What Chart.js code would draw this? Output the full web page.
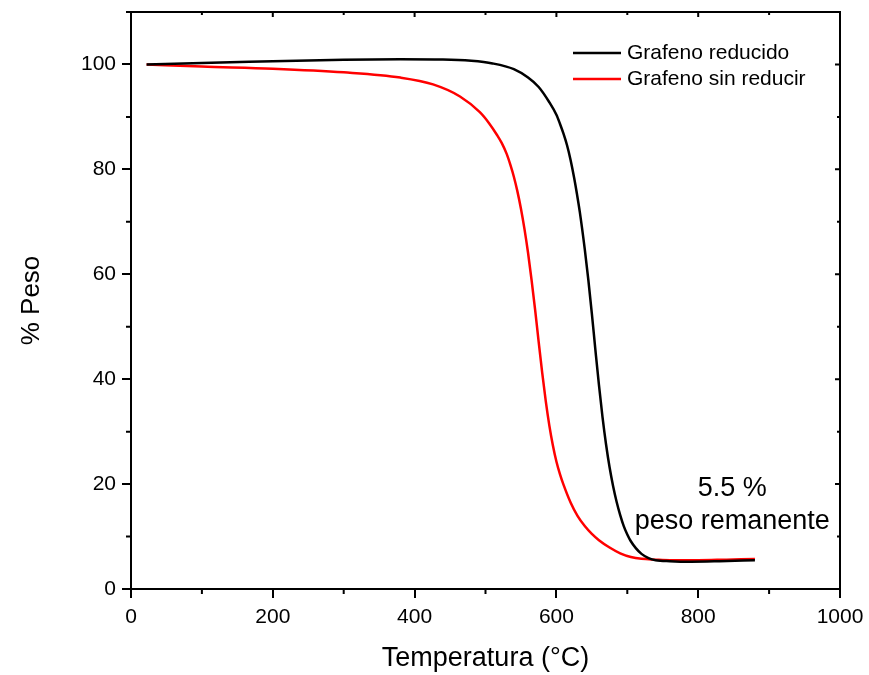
<!DOCTYPE html>
<html>
<head>
<meta charset="utf-8">
<script src="https://cdn.jsdelivr.net/npm/chart.js@4.4.1/dist/chart.umd.min.js"></script>
<style>
  body { margin: 0; background: #fff; }
  #wrap { width: 869px; height: 675px; position: relative; }
</style>
</head>
<body>
<div id="wrap"><canvas id="tga"></canvas></div>
<script>
// TGA curves (temperature in °C, weight in %)
const tempReducido = [22, 100, 200, 300, 380, 440, 480, 510, 540, 560, 575, 590, 600, 605, 610, 615, 620, 625, 629, 633, 640, 645, 650, 655, 660, 665, 670, 675, 680, 685, 690, 695, 700, 705, 712, 720, 730, 740, 760, 790, 830, 880];
const pesoReducido = [100.0, 100.3, 100.6, 100.9, 101.0, 100.95, 100.7, 100.2, 99.1, 97.5, 95.7, 92.8, 90.4, 88.7, 86.8, 84.6, 81.8, 78.4, 75.3, 71.9, 64.8, 59.0, 52.5, 45.6, 38.9, 32.8, 27.6, 23.2, 19.6, 16.6, 14.1, 12.0, 10.4, 9.1, 7.8, 6.7, 5.9, 5.5, 5.3, 5.2, 5.3, 5.5];

const tempSinReducir = [22, 100, 200, 300, 380, 426, 464, 492, 505, 516, 523, 530, 535, 540, 545, 550, 555, 560, 565, 570, 575, 580, 585, 590, 595, 600, 605, 610, 620, 630, 640, 650, 660, 675, 690, 705, 720, 740, 760, 800, 840, 880];
const pesoSinReducir = [100, 99.6, 99.2, 98.5, 97.5, 96.2, 93.9, 90.9, 88.8, 86.6, 85.0, 82.9, 80.9, 78.6, 75.8, 72.5, 68.6, 64.1, 58.9, 53.2, 47.1, 41.2, 35.8, 31.2, 27.4, 24.3, 21.9, 19.9, 16.5, 13.9, 12.0, 10.5, 9.3, 7.9, 6.8, 6.1, 5.75, 5.6, 5.5, 5.5, 5.6, 5.7];

const xTicks = [0, 200, 400, 600, 800, 1000];
const yTicks = [0, 20, 40, 60, 80, 100];
const seriesNames = ['Grafeno reducido', 'Grafeno sin reducir'];
const seriesColors = ['#000000', '#ff0000'];
const noteLines = ['5.5 %', 'peso remanente'];

const FONT = '"Liberation Sans", Arial, sans-serif';
const toPoints = (xs, ys) => xs.map((x, i) => ({ x: x, y: ys[i] }));

// frame, minor ticks, legend and annotation
const decorations = {
  id: 'decorations',
  afterDraw(chart) {
    const { ctx, chartArea: a, scales } = chart;
    const xs = scales.x, ys = scales.y;
    ctx.save();
    ctx.strokeStyle = '#000';
    ctx.lineWidth = 2;
    ctx.strokeRect(a.left, a.top, a.right - a.left, a.bottom - a.top);

    ctx.beginPath();
    // minor ticks outside on bottom/left, small inner ticks on top/right
    for (let v = 0; v <= 1000; v += 100) {
      const px = xs.getPixelForValue(v);
      if (v % 200 !== 0) {
        ctx.moveTo(px, a.bottom); ctx.lineTo(px, a.bottom + 5);
      }
      ctx.moveTo(px, a.top); ctx.lineTo(px, a.top + (v % 200 ? 3 : 5));
    }
    for (let v = 0; v <= 110; v += 10) {
      const py = ys.getPixelForValue(v);
      if (v % 20 !== 0) {
        ctx.moveTo(a.left, py); ctx.lineTo(a.left - 5, py);
      }
      ctx.moveTo(a.right, py); ctx.lineTo(a.right - (v % 20 ? 3 : 5), py);
    }
    ctx.stroke();

    // legend
    ctx.font = '21px ' + FONT;
    ctx.textBaseline = 'middle';
    ctx.textAlign = 'left';
    seriesNames.forEach((name, i) => {
      const y = 53 + i * 26;
      ctx.strokeStyle = seriesColors[i];
      ctx.lineWidth = 2.5;
      ctx.beginPath();
      ctx.moveTo(573, y); ctx.lineTo(621, y);
      ctx.stroke();
      ctx.fillStyle = '#000';
      ctx.fillText(name, 627, y);
    });

    // note about the residue
    ctx.font = '27px ' + FONT;
    ctx.textAlign = 'center';
    const nx = xs.getPixelForValue(848);
    ctx.fillText(noteLines[0], nx, ys.getPixelForValue(19.2));
    ctx.fillText(noteLines[1], nx, ys.getPixelForValue(12.8));
    ctx.restore();
  }
};

new Chart(document.getElementById('tga'), {
  type: 'line',
  data: {
    datasets: [
      {
        label: seriesNames[0],
        data: toPoints(tempReducido, pesoReducido),
        borderColor: seriesColors[0],
        borderWidth: 2.5,
        pointRadius: 0,
        cubicInterpolationMode: 'monotone'
      },
      {
        label: seriesNames[1],
        data: toPoints(tempSinReducir, pesoSinReducir),
        borderColor: seriesColors[1],
        borderWidth: 2.5,
        pointRadius: 0,
        cubicInterpolationMode: 'monotone'
      }
    ]
  },
  options: {
    responsive: true,
    maintainAspectRatio: false,
    animation: false,
    layout: { padding: { top: 12, right: 29, left: 0, bottom: 0 } },
    plugins: { legend: { display: false }, tooltip: { enabled: false } },
    scales: {
      x: {
        type: 'linear',
        min: 0,
        max: 1000,
        afterFit: s => { s.height = 86; s.paddingLeft = 0; s.paddingRight = 0; },
        afterBuildTicks: s => { s.ticks = xTicks.map(v => ({ value: v })); },
        ticks: {
          color: '#000',
          padding: 7,
          callback: v => String(v),
          font: { size: 21, family: FONT }
        },
        grid: { drawOnChartArea: false, tickLength: 9, color: '#000', lineWidth: 2 },
        border: { color: '#000', width: 2 },
        title: {
          display: true,
          text: 'Temperatura (°C)',
          color: '#000',
          padding: { top: 0, bottom: 0 },
          font: { size: 27, family: FONT }
        }
      },
      y: {
        type: 'linear',
        min: 0,
        max: 110,
        afterFit: s => { s.width = 131; s.paddingTop = 0; s.paddingBottom = 0; },
        afterBuildTicks: s => { s.ticks = yTicks.map(v => ({ value: v })); },
        ticks: {
          color: '#000',
          padding: 6,
          callback: v => String(v),
          font: { size: 21, family: FONT }
        },
        grid: { drawOnChartArea: false, tickLength: 9, color: '#000', lineWidth: 2 },
        border: { color: '#000', width: 2 },
        title: {
          display: true,
          text: '% Peso',
          color: '#000',
          padding: { top: 16, bottom: 0 },
          font: { size: 26, family: FONT }
        }
      }
    }
  },
  plugins: [decorations]
});
</script>
</body>
</html>
